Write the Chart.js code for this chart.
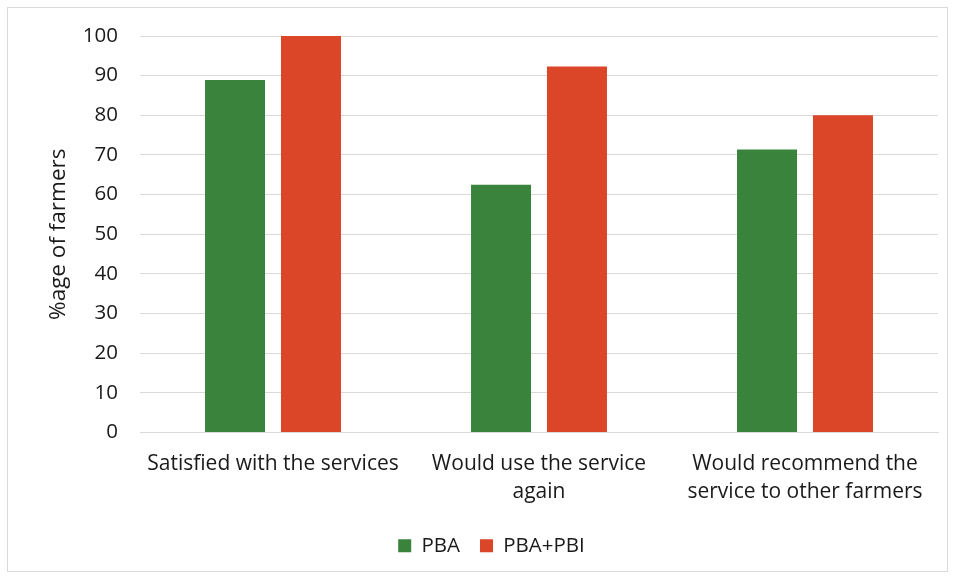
<!DOCTYPE html>
<html>
<head>
<meta charset="utf-8">
<script src="https://cdn.jsdelivr.net/npm/chart.js@4"></script>
<style>
  body { margin: 0; background: #fff; }
  #box { position: absolute; left: 7px; top: 7px; width: 939px; height: 563px; border: 1px solid #d9d9d9; }
</style>
</head>
<body>
<div id="box"><canvas id="barChart" width="939" height="563"></canvas></div>
<script>
const categories = [
  ['Satisfied with the services'],
  ['Would use the service', 'again'],
  ['Would recommend the', 'service to other farmers']
];
const pba = [88.9, 62.5, 71.4];
const pbaPbi = [100, 92.3, 80];
const yTicks = [0, 10, 20, 30, 40, 50, 60, 70, 80, 90, 100];

const font = "'Open Sans', sans-serif";
const ctx = document.getElementById('barChart');
new Chart(ctx, {
  type: 'bar',
  data: {
    labels: categories,
    datasets: [
      { label: 'PBA', data: pba, backgroundColor: '#3a833c', barPercentage: 0.79, categoryPercentage: 0.571 },
      { label: 'PBA+PBI', data: pbaPbi, backgroundColor: '#db4528', barPercentage: 0.79, categoryPercentage: 0.571 }
    ]
  },
  options: {
    responsive: false,
    animation: false,
    layout: { padding: { top: 28, right: 9, bottom: 5, left: 37 } },
    plugins: {
      tooltip: { enabled: false },
      legend: {
        position: 'bottom',
        labels: { boxWidth: 13, boxHeight: 13, color: '#1a1a1a', font: { family: font, size: 20.5 }, padding: 20 }
      }
    },
    scales: {
      x: {
        grid: { display: false },
        border: { color: '#d9d9d9' },
        ticks: { color: '#1a1a1a', font: { family: font, size: 21, lineHeight: 1.33 }, padding: 10, maxRotation: 0, autoSkip: false },
        afterFit: s => { s.height = 83; }
      },
      y: {
        min: 0, max: 100,
        afterBuildTicks: s => { s.ticks = yTicks.map(v => ({ value: v })); },
        grid: { color: '#d9d9d9', drawTicks: false },
        border: { display: false },
        ticks: { color: '#1a1a1a', font: { family: font, size: 20.5 }, padding: 22 },
        title: { display: true, text: '%age of farmers', color: '#1a1a1a', font: { family: font, size: 22.5 }, padding: 0 },
        afterFit: s => { s.width = 95; s.paddingTop = 0; s.paddingBottom = 0; }
      }
    }
  }
});
</script>
</body>
</html>
